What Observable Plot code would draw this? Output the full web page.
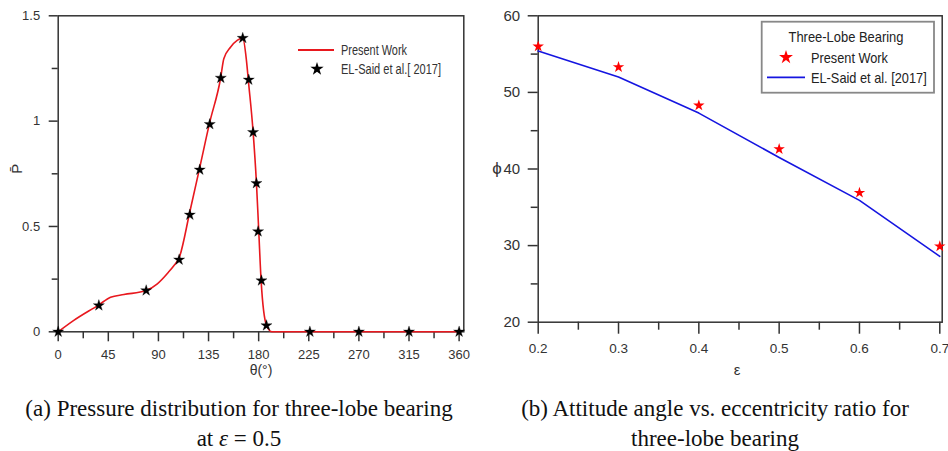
<!DOCTYPE html>
<html><head><meta charset="utf-8">
<script src="https://cdn.jsdelivr.net/npm/d3@7"></script>
<script src="https://cdn.jsdelivr.net/npm/@observablehq/plot@0.6"></script>
<style>
html,body{margin:0;padding:0;background:#fff;}
#fig{position:relative;width:948px;height:451px;overflow:hidden;background:#fff;}
#pa{position:absolute;left:0;top:0;}
#pb{position:absolute;left:480px;top:0;}
.cap{position:absolute;font-family:"Liberation Serif","Times New Roman",serif;font-size:23px;line-height:30px;text-align:center;color:#111;white-space:nowrap;}
</style></head><body>
<div id="fig"><div id="pa"></div><div id="pb"></div>
<div class="cap" style="left:0;width:478px;top:394px">(a) Pressure distribution for three-lobe bearing<br>at <i>ε</i> = 0.5</div>
<div class="cap" style="left:480px;width:470px;top:394px">(b) Attitude angle vs. eccentricity ratio for<br>three-lobe bearing</div>
</div>
<script>
// ---- Panel (a) data ----
const thetaCurve = [0, 14, 36.5, 47, 59, 79, 89, 99, 104, 108.5, 118.2, 127.1, 136.1, 145.7, 148.7, 154.7, 160.7, 165.7, 169, 170.8, 175, 178, 180.1, 182.2, 187.1, 192, 225, 270, 315, 360];
const pCurve = [0, 0.054, 0.128, 0.164, 0.177, 0.196, 0.228, 0.283, 0.315, 0.35, 0.57, 0.78, 0.995, 1.2, 1.296, 1.351, 1.383, 1.395, 1.29, 1.19, 0.95, 0.707, 0.476, 0.243, 0.03, 0, 0, 0, 0, 0];
const thetaStars = [0, 36.5, 79, 108.6, 118.2, 127.1, 136.1, 146, 165.7, 171.1, 175, 178, 179.5, 182.5, 187, 226, 270, 315, 360];
const pStars = [0, 0.125, 0.196, 0.342, 0.555, 0.769, 0.985, 1.205, 1.394, 1.196, 0.947, 0.705, 0.476, 0.243, 0.03, 0, 0, 0, 0];
const xTicksA = [0, 45, 90, 135, 180, 225, 270, 315, 360];
const xMinorA = [22.5, 67.5, 112.5, 157.5, 202.5, 247.5, 292.5, 337.5];
const yTicksA = [0, 0.5, 1, 1.5];
const yMinorA = [0.25, 0.75, 1.25];
const legendA = ["Present Work", "EL-Said et al.[ 2017]"];

// ---- Panel (b) data ----
const eps = [0.2, 0.3, 0.4, 0.5, 0.6, 0.7];
const phiPresent = [56.0, 53.3, 48.3, 42.6, 36.9, 29.9];
const phiElSaid = [55.4, 52.0, 47.3, 41.5, 35.9, 28.6];
const xTicksB = [0.2, 0.3, 0.4, 0.5, 0.6, 0.7];
const xMinorB = [0.25, 0.35, 0.45, 0.55, 0.65];
const yTicksB = [20, 30, 40, 50, 60];
const yMinorB = [25, 35, 45, 55];
const legendBTitle = "Three-Lobe Bearing";
const legendB = ["Present Work", "EL-Said et al. [2017]"];

const RED = "#e8181e", AX = "#333";
const sans = "'Liberation Sans', Arial, sans-serif";
const narrow = "'Liberation Sans Narrow','Arial Narrow','Liberation Sans',Arial,sans-serif";

const curveA = thetaCurve.map((t, i) => ({t, p: pCurve[i]}));
const starsA = thetaStars.map((t, i) => ({t, p: pStars[i]}));

const plotA = Plot.plot({
  width: 480, height: 385,
  marginLeft: 57.7, marginRight: 16.7, marginTop: 15.3, marginBottom: 53.7,
  x: {domain: [0, 364.2], label: null},
  y: {domain: [0, 1.5], label: null},
  style: {fontFamily: sans, fontSize: "13px", color: AX, background: "#fff", overflow: "visible"},
  marks: [
    Plot.axisX({ticks: xMinorA, tickSize: 7, tickFormat: () => "", strokeWidth: 1.5, label: null}),
    Plot.axisX({ticks: xTicksA, tickSize: 10, tickPadding: 8, tickFormat: d => String(d), strokeWidth: 1.5, label: null, fontSize: 13}),
    Plot.axisY({ticks: yMinorA, tickSize: 6, tickFormat: () => "", strokeWidth: 1.5, label: null}),
    Plot.axisY({ticks: yTicksA, tickSize: 9, tickPadding: 9, tickFormat: d => String(d), strokeWidth: 1.5, label: null, fontSize: 13}),
    Plot.frame({stroke: AX, strokeWidth: 1.5}),
    Plot.line(curveA, {x: "t", y: "p", stroke: RED, strokeWidth: 1.6, curve: "monotone-x"}),
    Plot.dot(starsA, {x: "t", y: "p", symbol: "star", r: 3.5, fill: "#000", stroke: "#000", strokeWidth: 0.3}),
    Plot.text(["θ(°)"], {frameAnchor: "bottom", dy: 38.7, fontSize: 14, lineAnchor: "middle"}),
    Plot.text(["P\u0304"], {frameAnchor: "left", dx: -41, rotate: -90, fontSize: 15, lineAnchor: "middle"})
  ]
});
document.getElementById("pa").appendChild(plotA);

const dataB = eps.map((e, i) => ({e, a: phiPresent[i], b: phiElSaid[i]}));
const plotB = Plot.plot({
  width: 468, height: 385,
  marginLeft: 57.7, marginRight: 6.3, marginTop: 15.3, marginBottom: 63.3,
  x: {domain: [0.2, 0.703], label: null},
  y: {domain: [20, 60], label: null},
  style: {fontFamily: sans, fontSize: "14px", color: AX, background: "#fff", overflow: "visible"},
  marks: [
    Plot.axisX({ticks: xMinorB, tickSize: 8, tickFormat: () => "", strokeWidth: 1.5, label: null}),
    Plot.axisX({ticks: xTicksB, tickSize: 12, tickPadding: 9, tickFormat: d => d.toFixed(1), strokeWidth: 1.5, label: null, fontSize: 13.5}),
    Plot.axisY({ticks: yMinorB, tickSize: 7, tickFormat: () => "", strokeWidth: 1.5, label: null}),
    Plot.axisY({ticks: yTicksB, tickSize: 10, tickPadding: 8, tickFormat: d => String(d), strokeWidth: 1.5, label: null, fontSize: 15}),
    Plot.frame({stroke: AX, strokeWidth: 1.5}),
    Plot.line(dataB, {x: "e", y: "b", stroke: "#1515e0", strokeWidth: 1.6}),
    Plot.dot(dataB, {x: "e", y: "a", symbol: "star", r: 3.6, fill: "#ff0000", stroke: "none"}),
    Plot.text(["ε"], {frameAnchor: "bottom", dy: 48.3, dx: -3, fontSize: 15, lineAnchor: "middle"}),
    Plot.text(["ϕ"], {frameAnchor: "left", dx: -46, fontSize: 17, lineAnchor: "middle"})
  ]
});
document.getElementById("pb").appendChild(plotB);

// ---- Legend (a) ----
const gA = d3.select(plotA).append("g").attr("font-family", narrow).attr("font-size", 14).attr("fill", AX).attr("text-anchor", "start");
gA.append("line").attr("x1", 298).attr("x2", 334).attr("y1", 50).attr("y2", 50).attr("stroke", RED).attr("stroke-width", 2);
gA.append("text").attr("x", 341).attr("y", 50).attr("dy", "0.35em").attr("text-anchor", "start").attr("textLength", 66).attr("lengthAdjust", "spacingAndGlyphs").text(legendA[0]);
gA.append("path").attr("d", d3.symbol(d3.symbolStar, 55)()).attr("transform", "translate(317,69)").attr("fill", "#000");
gA.append("text").attr("x", 341).attr("y", 69).attr("dy", "0.35em").attr("text-anchor", "start").attr("textLength", 100).attr("lengthAdjust", "spacingAndGlyphs").text(legendA[1]);

// ---- Legend (b) ----
const gB = d3.select(plotB).append("g").attr("font-family", narrow).attr("font-size", 15).attr("fill", "#222").attr("text-anchor", "start");
gB.append("rect").attr("x", 281.7).attr("y", 21.7).attr("width", 172.3).attr("height", 71).attr("fill", "#fff").attr("stroke", "#888").attr("stroke-width", 1.8);
gB.append("text").attr("x", 366).attr("y", 36.7).attr("dy", "0.35em").attr("text-anchor", "middle").attr("textLength", 115).attr("lengthAdjust", "spacingAndGlyphs").text(legendBTitle);
gB.append("path").attr("d", d3.symbol(d3.symbolStar, 60)()).attr("transform", "translate(306,57.3)").attr("fill", "#ff0000");
gB.append("text").attr("x", 331).attr("y", 57.3).attr("dy", "0.35em").attr("text-anchor", "start").attr("textLength", 77).attr("lengthAdjust", "spacingAndGlyphs").text(legendB[0]);
gB.append("line").attr("x1", 287).attr("x2", 325).attr("y1", 77.3).attr("y2", 77.3).attr("stroke", "#1515e0").attr("stroke-width", 1.8);
gB.append("text").attr("x", 331).attr("y", 77.3).attr("dy", "0.35em").attr("text-anchor", "start").attr("textLength", 115.7).attr("lengthAdjust", "spacingAndGlyphs").text(legendB[1]);
</script>
</body></html>
